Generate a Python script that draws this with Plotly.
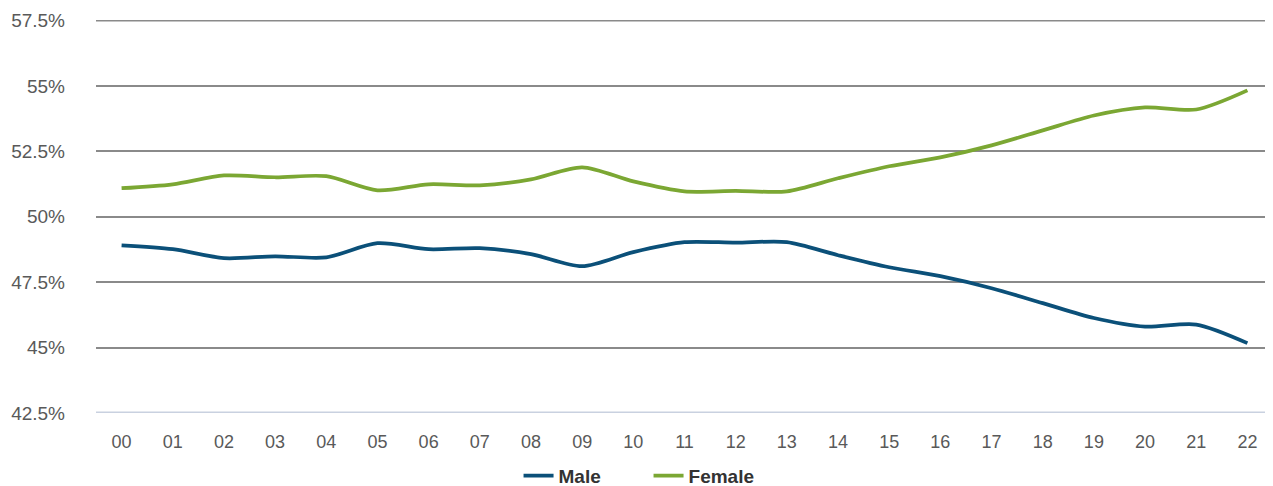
import plotly.graph_objects as go

years = ["00","01","02","03","04","05","06","07","08","09","10","11",
         "12","13","14","15","16","17","18","19","20","21","22"]
female = [51.09, 51.24, 51.58, 51.51, 51.55, 51.01, 51.24, 51.20, 51.43, 51.89, 51.35, 50.97,
          50.99, 50.97, 51.47, 51.93, 52.27, 52.73, 53.30, 53.87, 54.18, 54.10, 54.83]
male = [48.91, 48.76, 48.42, 48.49, 48.45, 48.99, 48.76, 48.80, 48.57, 48.11, 48.65, 49.03,
        49.01, 49.03, 48.53, 48.07, 47.73, 47.27, 46.70, 46.13, 45.80, 45.88, 45.17]
yticks = [42.5, 45, 47.5, 50, 52.5, 55, 57.5]
ytext = ["42.5%", "45%", "47.5%", "50%", "52.5%", "55%", "57.5%"]

fig = go.Figure()
fig.add_trace(go.Scatter(x=years, y=male, name="Male", mode="lines",
                         line=dict(color="#0b5079", width=3.75, shape="spline", smoothing=0.8)))
fig.add_trace(go.Scatter(x=years, y=female, name="Female", mode="lines",
                         line=dict(color="#7ba733", width=3.75, shape="spline", smoothing=0.8)))

# page body has an 8px default margin, so the figure is sized/offset to compensate
fig.update_layout(
    width=1265, height=478,
    margin=dict(l=88, r=0, t=12, b=73, autoexpand=False),
    paper_bgcolor="white", plot_bgcolor="white",
    font=dict(family="Liberation Sans, Arial, sans-serif", color="#595959", size=18),
    legend=dict(orientation="h", x=0.359, xanchor="left", y=-0.16, yanchor="middle",
                font=dict(size=19, color="#333333", weight="bold"),
                tracegroupgap=0, entrywidthmode="pixels", entrywidth=85),
    showlegend=True,
)
fig.update_xaxes(type="category", range=[-0.5, 22.5], showgrid=False, showline=False,
                 ticks="", ticklabelstandoff=16, automargin=False,
                 tickfont=dict(size=18, color="#595959"))
fig.update_yaxes(range=[42.5, 57.52], tickvals=yticks, ticktext=ytext,
                 showgrid=True, gridcolor="#8a8a8a", gridwidth=2, zeroline=False,
                 showline=False, ticks="", ticklabelstandoff=30, automargin=False,
                 tickfont=dict(size=19, color="#595959"))
fig.add_shape(type="line", xref="paper", yref="y", x0=0, x1=1, y0=yticks[-1], y1=yticks[-1],
              line=dict(color="#8a8a8a", width=2), layer="below")
fig.add_shape(type="line", xref="paper", yref="y", x0=0, x1=1, y0=yticks[0], y1=yticks[0],
              line=dict(color="#c9d1e0", width=3), layer="above")

fig.write_html("out.html")
